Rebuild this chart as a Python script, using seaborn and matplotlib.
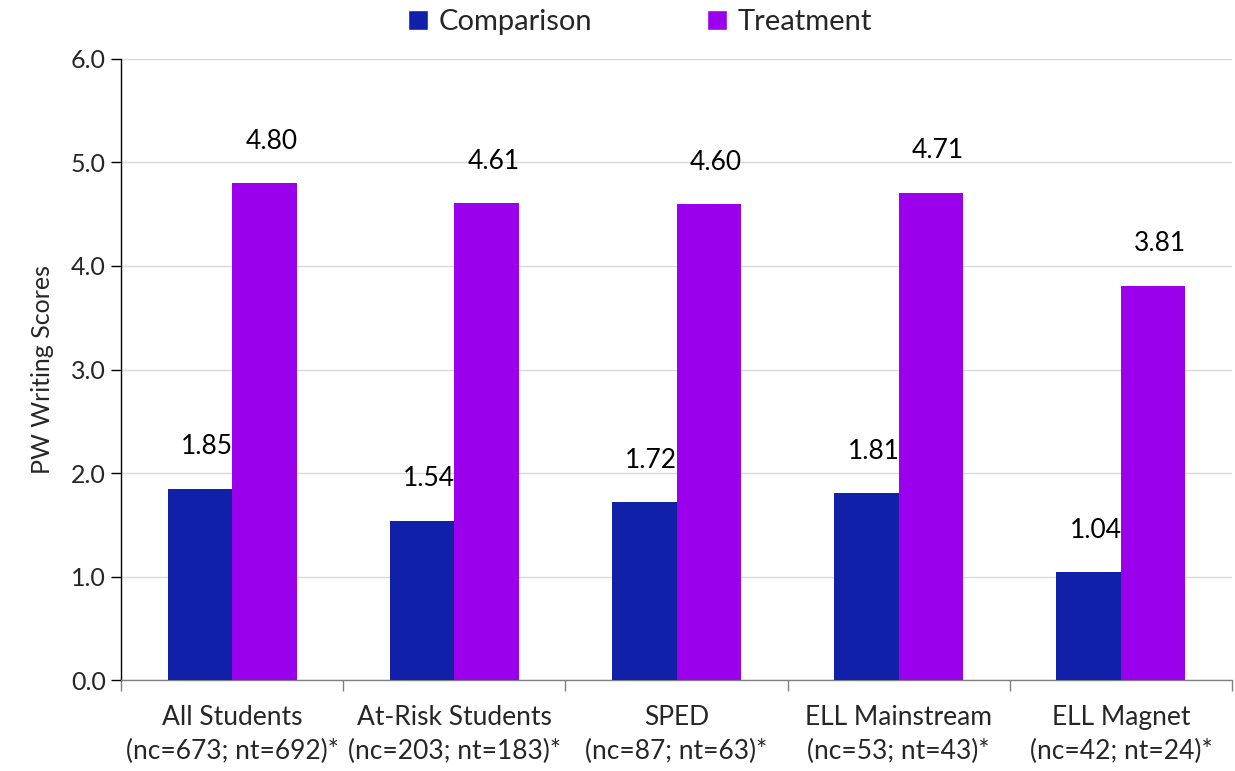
import matplotlib
matplotlib.use("Agg")
import matplotlib.pyplot as plt
import seaborn as sns
import pandas as pd
from matplotlib.ticker import FixedLocator, MultipleLocator, FormatStrFormatter

categories = [
    "All Students\n(nc=673; nt=692)*",
    "At-Risk Students\n(nc=203; nt=183)*",
    "SPED\n(nc=87; nt=63)*",
    "ELL Mainstream\n(nc=53; nt=43)*",
    "ELL Magnet\n(nc=42; nt=24)*",
]
series_names = ["Comparison", "Treatment"]
comparison = [1.85, 1.54, 1.72, 1.81, 1.04]
treatment = [4.80, 4.61, 4.60, 4.71, 3.81]
colors = ["#1020A8", "#9A00EC"]

sns.set_theme(style="white")
plt.rcParams["font.family"] = ["Lato", "DejaVu Sans"]

df = pd.DataFrame({
    "group": categories * 2,
    "series": [series_names[0]] * len(categories) + [series_names[1]] * len(categories),
    "score": comparison + treatment,
})

fig = plt.figure(figsize=(12.35, 7.71), dpi=100)
ax = fig.add_axes([0.098, 0.118, 0.8996, 0.8055])

sns.barplot(data=df, x="group", y="score", hue="series", order=categories,
            hue_order=series_names, palette=colors, width=0.58, saturation=1,
            gap=0, errorbar=None, ax=ax, legend=True, zorder=3)

# value labels above each bar, taken from the bar heights
for container in ax.containers:
    for bar in container:
        bar.set_edgecolor("none")
        h = bar.get_height()
        ax.annotate(f"{h:.2f}", (bar.get_x() + bar.get_width() / 2, h),
                    xytext=(5, 30), textcoords="offset points",
                    ha="center", va="center", fontsize=19, color="black")

ax.set_ylim(0, 6)
ax.set_xlim(-0.5, len(categories) - 0.5)
ax.yaxis.set_major_locator(MultipleLocator(1.0))
ax.yaxis.set_major_formatter(FormatStrFormatter("%.1f"))
ax.grid(axis="y", color="#D9D9D9", linewidth=1, zorder=0)
ax.set_axisbelow(True)

ax.set_xlabel("")
ax.set_ylabel("PW Writing Scores", fontsize=18, labelpad=12)
ax.tick_params(axis="y", which="major", left=True, length=7, width=1,
               color="black", labelsize=18, pad=4)
ax.tick_params(axis="x", which="major", bottom=False, length=0, labelsize=19, pad=18)
for lbl in ax.get_xticklabels():
    lbl.set_linespacing(1.45)
# tick marks between the category groups
ax.xaxis.set_minor_locator(FixedLocator([i - 0.5 for i in range(len(categories) + 1)]))
ax.tick_params(axis="x", which="minor", bottom=True, length=8, width=1, color="#808080")

for side in ["top", "right"]:
    ax.spines[side].set_visible(False)
ax.spines["left"].set_color("black")
ax.spines["left"].set_linewidth(1)
ax.spines["bottom"].set_color("#808080")
ax.spines["bottom"].set_linewidth(1)

handles, labels = ax.get_legend_handles_labels()
ax.legend_.remove()
fig.legend(handles, labels, loc="center", bbox_to_anchor=(0.518, 0.971),
           ncol=2, frameon=False, fontsize=21, handlelength=0.7, handleheight=0.7,
           handletextpad=0.35, columnspacing=3.95)

fig.savefig("out.png", dpi=100)
